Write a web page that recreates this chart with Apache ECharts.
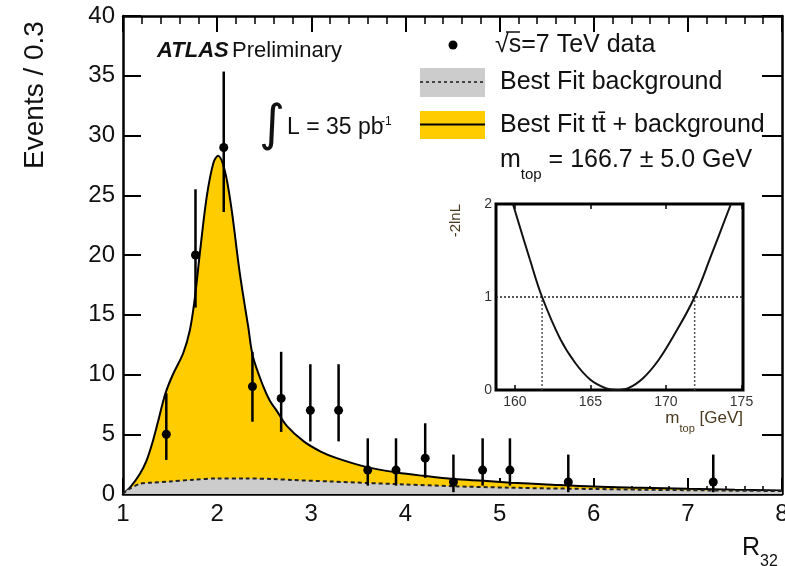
<!DOCTYPE html>
<html>
<head>
<meta charset="utf-8">
<script src="https://cdn.jsdelivr.net/npm/echarts@6/dist/echarts.min.js"></script>
<style>
  html, body { margin: 0; padding: 0; background: #fff; }
  #chart { width: 785px; height: 566px; }
</style>
</head>
<body>
<div id="chart"></div>
<script>
// R32 distribution: data points with asymmetric errors
const dataX    = [1.46, 1.77, 2.07, 2.375, 2.68, 2.99, 3.29, 3.60, 3.90, 4.21, 4.51, 4.82, 5.11, 5.73, 7.27];
const dataY    = [5, 20, 29, 9, 8, 7, 7, 2, 2, 3, 1, 2, 2, 1, 1];
const dataLow  = [2.85, 15.6, 23.6, 6.05, 5.2, 4.4, 4.4, 0.7, 0.7, 1.35, 0.15, 0.7, 0.7, 0.15, 0.15];
const dataHigh = [8.43, 25.5, 35.35, 11.9, 11.9, 10.86, 10.86, 4.66, 4.66, 5.92, 3.3, 4.66, 4.66, 3.3, 3.3];

// Best fit ttbar + background template
const fitX = [1.00, 1.08, 1.18, 1.25, 1.32, 1.38, 1.45, 1.53, 1.64, 1.71, 1.76, 1.82, 1.89, 1.96, 2.01,
              2.08, 2.15, 2.24, 2.33, 2.38, 2.49, 2.56, 2.63, 2.74, 2.92, 3.10, 3.27, 3.59, 3.91, 4.19,
              4.51, 4.83, 5.12, 5.50, 6.00, 6.50, 7.00, 7.50, 8.00];
const fitY = [0.0, 0.6, 1.7, 2.8, 4.5, 6.3, 8.4, 10.0, 11.8, 13.7, 16.2, 20.4, 24.9, 27.7, 28.3,
              27.1, 24.0, 18.5, 14.0, 11.5, 9.0, 7.8, 7.0, 5.7, 4.4, 3.55, 3.0, 2.25, 1.8, 1.52,
              1.25, 1.1, 0.95, 0.8, 0.62, 0.52, 0.43, 0.36, 0.3];

// Best fit background only
const bkgX = [1.00, 1.05, 1.18, 1.30, 1.50, 1.75, 2.00, 2.30, 2.60, 2.80, 3.20, 3.60, 4.00, 4.50, 5.10,
              5.50, 6.00, 6.50, 7.00, 7.50, 8.00];
const bkgY = [0.0, 0.35, 0.85, 0.95, 1.05, 1.2, 1.3, 1.3, 1.25, 1.17, 1.05, 0.92, 0.8, 0.65, 0.53,
              0.47, 0.42, 0.36, 0.32, 0.28, 0.25];

// Likelihood scan versus top mass
const scanMass = [159.87, 161.0, 161.8, 163.0, 164.0, 165.0, 166.0, 166.7, 167.5, 168.5, 169.5, 170.5, 171.9, 173.0, 174.3];
const scanNLL  = [2.0, 1.4, 1.0, 0.55, 0.29, 0.11, 0.02, 0.0, 0.02, 0.13, 0.32, 0.58, 1.0, 1.45, 2.0];
const oneSigmaLevel = 1;
const oneSigmaMass = [161.8, 171.9];
const scanRange = [158.75, 175.1];
const scanTicks = [160, 165, 170, 175];

const FONT = "'Liberation Sans', Arial, Helvetica, sans-serif";
const zip = (a, b) => a.map((v, i) => [v, b[i]]);

const chart = echarts.init(document.getElementById('chart'), null, { renderer: 'canvas' });

const mainTick = (len, show) => ({
  show: show, inside: true, length: len, lineStyle: { color: '#000', width: 2 }
});

const option = {
  animation: false,
  backgroundColor: '#fff',
  grid: [
    { left: 123, top: 16, width: 659, height: 478, show: false, outerBoundsMode: 'none', containLabel: false },
    { left: 496, top: 204, width: 247, height: 186, show: true, backgroundColor: '#fff',
      borderColor: '#000', borderWidth: 3, z: 5, outerBoundsMode: 'none', containLabel: false }
  ],
  xAxis: [
    { type: 'value', gridIndex: 0, min: 1, max: 8, interval: 1, position: 'bottom',
      axisLine: { show: true, onZero: false, lineStyle: { color: '#000', width: 2.5 } },
      axisTick: mainTick(16, true),
      minorTick: { show: true, splitNumber: 5, length: 8, lineStyle: { color: '#000', width: 1.5 } },
      axisLabel: { fontFamily: FONT, fontSize: 24, color: '#111', margin: 8, hideOverlap: false },
      splitLine: { show: false } },
    { type: 'value', gridIndex: 0, min: 1, max: 8, interval: 1, position: 'top',
      axisLine: { show: true, onZero: false, lineStyle: { color: '#000', width: 2.5 } },
      axisTick: mainTick(16, true),
      minorTick: { show: true, splitNumber: 5, length: 8, lineStyle: { color: '#000', width: 1.5 } },
      axisLabel: { show: false }, splitLine: { show: false } },
    { type: 'value', gridIndex: 1, min: scanRange[0], max: scanRange[1], position: 'bottom',
      axisLine: { show: false },
      axisTick: { show: true, inside: true, length: 5, customValues: scanTicks, lineStyle: { color: '#000', width: 1.5 } },
      axisLabel: { customValues: scanTicks, fontFamily: FONT, fontSize: 14, color: '#333', margin: 5 },
      splitLine: { show: false }, z: 6 },
    { type: 'value', gridIndex: 1, min: scanRange[0], max: scanRange[1], position: 'top',
      axisLine: { show: false },
      axisTick: { show: true, inside: true, length: 5, customValues: scanTicks, lineStyle: { color: '#000', width: 1.5 } },
      axisLabel: { show: false }, splitLine: { show: false }, z: 6 }
  ],
  yAxis: [
    { type: 'value', gridIndex: 0, min: 0, max: 40, interval: 5, position: 'left',
      axisLine: { show: true, onZero: false, lineStyle: { color: '#000', width: 2.5 } },
      axisTick: mainTick(18, true),
      axisLabel: { fontFamily: FONT, fontSize: 24, color: '#111', margin: 8 },
      splitLine: { show: false } },
    { type: 'value', gridIndex: 0, min: 0, max: 40, interval: 5, position: 'right',
      axisLine: { show: true, onZero: false, lineStyle: { color: '#000', width: 2.5 } },
      axisTick: mainTick(20, true),
      axisLabel: { show: false }, splitLine: { show: false } },
    { type: 'value', gridIndex: 1, min: 0, max: 2, interval: 1, position: 'left',
      axisLine: { show: false }, axisTick: { show: false },
      axisLabel: { fontFamily: FONT, fontSize: 14, color: '#333', margin: 4 },
      splitLine: { show: false }, z: 6 }
  ],
  series: [
    { name: 'fit', type: 'line', xAxisIndex: 0, yAxisIndex: 0, data: zip(fitX, fitY),
      smooth: 0.35, showSymbol: false, z: 2,
      lineStyle: { color: '#000', width: 2 },
      areaStyle: { color: '#FFCC00', opacity: 1 } },
    { name: 'bkg', type: 'line', xAxisIndex: 0, yAxisIndex: 0, data: zip(bkgX, bkgY),
      smooth: 0.3, showSymbol: false, z: 3,
      lineStyle: { color: '#222', width: 2, type: [4, 3] },
      areaStyle: { color: '#CCCCCC', opacity: 1 } },
    { name: 'data', type: 'custom', xAxisIndex: 0, yAxisIndex: 0, z: 4,
      data: dataX.map((x, i) => [x, dataY[i], dataLow[i], dataHigh[i]]),
      encode: { x: 0, y: 1 },
      renderItem: function (params, api) {
        const x = api.value(0);
        const p = api.coord([x, api.value(1)]);
        const lo = api.coord([x, api.value(2)]);
        const hi = api.coord([x, api.value(3)]);
        return {
          type: 'group',
          children: [
            { type: 'line', shape: { x1: lo[0], y1: lo[1], x2: hi[0], y2: hi[1] },
              style: { stroke: '#000', lineWidth: 2.5 } },
            { type: 'circle', shape: { cx: p[0], cy: p[1], r: 4.5 }, style: { fill: '#000' } }
          ]
        };
      } },
    { name: 'scan', type: 'line', xAxisIndex: 2, yAxisIndex: 2, data: zip(scanMass, scanNLL),
      smooth: 0.4, showSymbol: false, z: 7, clip: true,
      lineStyle: { color: '#111', width: 2 } },
    { name: 'level', type: 'line', xAxisIndex: 2, yAxisIndex: 2, z: 6, showSymbol: false,
      data: [[scanRange[0], oneSigmaLevel], [scanRange[1], oneSigmaLevel]],
      lineStyle: { color: '#222', width: 1.5, type: [2, 2] } },
    { name: 'lowEdge', type: 'line', xAxisIndex: 2, yAxisIndex: 2, z: 6, showSymbol: false,
      data: [[oneSigmaMass[0], 0], [oneSigmaMass[0], oneSigmaLevel]],
      lineStyle: { color: '#555', width: 1.5, type: [2, 2] } },
    { name: 'highEdge', type: 'line', xAxisIndex: 2, yAxisIndex: 2, z: 6, showSymbol: false,
      data: [[oneSigmaMass[1], 0], [oneSigmaMass[1], oneSigmaLevel]],
      lineStyle: { color: '#555', width: 1.5, type: [2, 2] } }
  ],
  graphic: [
    // axis titles
    { type: 'text', x: 35, y: 95, rotation: Math.PI / 2, z: 10,
      style: { text: 'Events / 0.3', fontFamily: FONT, fontSize: 28, fill: '#111',
               align: 'center', verticalAlign: 'middle' } },
    { type: 'text', x: 742, y: 548, z: 10,
      style: { text: '{r|R}{s|32}', fontFamily: FONT, fill: '#111', verticalAlign: 'middle',
               rich: { r: { fontFamily: FONT, fontSize: 25, lineHeight: 28, fill: '#111' },
                       s: { fontFamily: FONT, fontSize: 16, lineHeight: 16, verticalAlign: 'bottom', padding: [0, 0, -8, 0], fill: '#111' } } } },
    // experiment label
    { type: 'text', x: 157, y: 51, z: 10,
      style: { text: '{a|ATLAS} {p|Preliminary}', verticalAlign: 'middle',
               rich: { a: { fontFamily: FONT, fontSize: 22, fontWeight: 'bold', fontStyle: 'italic', fill: '#111' },
                       p: { fontFamily: FONT, fontSize: 22, fill: '#111' } } } },
    // luminosity
    { type: 'text', x: 272, y: 127, z: 10,
      style: { text: '\u222B', fontFamily: "'DejaVu Sans', sans-serif", fontSize: 50, fill: '#111',
               align: 'center', verticalAlign: 'middle' } },
    { type: 'text', x: 287, y: 128, z: 10,
      style: { text: 'L = 35 pb', fontFamily: FONT, fontSize: 23, fill: '#111', verticalAlign: 'middle' } },
    { type: 'text', x: 381, y: 122, z: 10,
      style: { text: '-1', fontFamily: FONT, fontSize: 12, fill: '#111', verticalAlign: 'middle' } },
    // legend: data
    { type: 'circle', shape: { cx: 453, cy: 45, r: 4.5 }, style: { fill: '#000' }, z: 10 },
    { type: 'text', x: 495, y: 45, z: 10,
      style: { text: '\u221As=7 TeV data', fontFamily: FONT, fontSize: 25, fill: '#111', verticalAlign: 'middle' } },
    { type: 'line', shape: { x1: 506, y1: 32, x2: 520, y2: 32 }, style: { stroke: '#111', lineWidth: 1.5 }, z: 10 },
    // legend: background
    { type: 'rect', shape: { x: 420, y: 68, width: 65, height: 29 }, style: { fill: '#CCCCCC' }, z: 10 },
    { type: 'line', shape: { x1: 420, y1: 82, x2: 485, y2: 82 }, style: { stroke: '#444', lineWidth: 2, lineDash: [3, 3] }, z: 11 },
    { type: 'text', x: 500, y: 82, z: 10,
      style: { text: 'Best Fit background', fontFamily: FONT, fontSize: 25, fill: '#111', verticalAlign: 'middle' } },
    // legend: signal + background
    { type: 'rect', shape: { x: 420, y: 111, width: 65, height: 28 }, style: { fill: '#FFCC00' }, z: 10 },
    { type: 'line', shape: { x1: 420, y1: 124.5, x2: 485, y2: 124.5 }, style: { stroke: '#000', lineWidth: 2 }, z: 11 },
    { type: 'text', x: 500, y: 125, z: 10,
      style: { text: 'Best Fit t\u0074\u0304 + background', fontFamily: FONT, fontSize: 25, fill: '#111', verticalAlign: 'middle' } },
    { type: 'text', x: 500, y: 160, z: 10,
      style: { text: '{m|m}{s|top}{m| = 166.7 \u00B1 5.0 GeV}', verticalAlign: 'middle',
               rich: { m: { fontFamily: FONT, fontSize: 25, lineHeight: 28, fill: '#111' },
                       s: { fontFamily: FONT, fontSize: 15, lineHeight: 15, verticalAlign: 'bottom', padding: [0, 0, -8, 0], fill: '#111' } } } },
    // inset axis titles
    { type: 'text', x: 456, y: 204, rotation: Math.PI / 2, z: 10,
      style: { text: '-2lnL', fontFamily: FONT, fontSize: 15, fill: '#4a3a1e', align: 'right', verticalAlign: 'middle' } },
    { type: 'text', x: 743, y: 418, z: 10,
      style: { text: '{m|m}{s|top}{m| [GeV]}', align: 'right', verticalAlign: 'middle',
               rich: { m: { fontFamily: FONT, fontSize: 17, lineHeight: 20, fill: '#4a3a1e' },
                       s: { fontFamily: FONT, fontSize: 11, lineHeight: 11, verticalAlign: 'bottom', padding: [0, 0, -6, 0], fill: '#4a3a1e' } } } }
  ]
};

chart.setOption(option);
</script>
</body>
</html>
